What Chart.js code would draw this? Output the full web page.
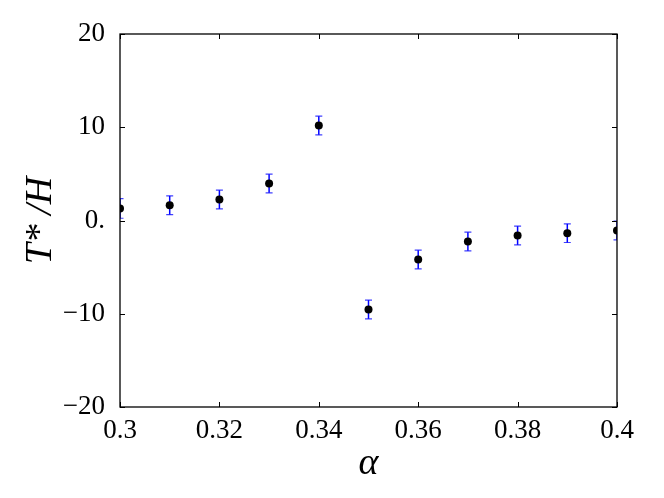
<!DOCTYPE html>
<html>
<head>
<meta charset="utf-8">
<script src="https://cdn.jsdelivr.net/npm/chart.js@4.4.1/dist/chart.umd.min.js"></script>
<style>
    html, body { margin: 0; padding: 0; background: #fff; }
</style>
</head>
<body>
<canvas id="chart" width="664" height="498"></canvas>
<script>
const alphaValues = [0.30, 0.31, 0.32, 0.33, 0.34, 0.35, 0.36, 0.37, 0.38, 0.39, 0.40];
const tValues = [1.29, 1.64, 2.25, 3.97, 10.19, -9.54, -4.18, -2.25, -1.61, -1.36, -1.07];
const tErrors = [1.05, 1.0, 1.0, 1.0, 1.0, 1.0, 1.0, 1.0, 1.0, 1.0, 1.0];

const xTicks = [0.30, 0.32, 0.34, 0.36, 0.38, 0.40];
const xTickLabels = ['0.3', '0.32', '0.34', '0.36', '0.38', '0.4'];
const yTicks = [-20, -10, 0, 10, 20];
const yTickLabels = ['\u221220', '\u221210', '0.', '10', '20'];

let points = [];
for (let i = 0; i < alphaValues.length; i++) {
    points.push({ 'x': alphaValues[i], 'y': tValues[i] });
}

// error bars drawn under the points, clipped to the plot area
const errorBars = {
    id: 'error_bars',
    beforeDatasetsDraw: (chart) => {
        const ctx = chart.ctx;
        const xs = chart.scales.x;
        const ys = chart.scales.y;
        const a = chart.chartArea;
        ctx.save();
        ctx.beginPath();
        ctx.rect(a.left, a.top, a.right - a.left, a.bottom - a.top);
        ctx.clip();
        for (let i = 0; i < alphaValues.length; i++) {
            const px = xs.getPixelForValue(alphaValues[i]);
            const top = ys.getPixelForValue(tValues[i] + tErrors[i]);
            const bottom = ys.getPixelForValue(tValues[i] - tErrors[i]);
            ctx.strokeStyle = 'rgb(0, 0, 255)';
            ctx.lineWidth = 1.5;
            ctx.beginPath();
            ctx.moveTo(px, top);
            ctx.lineTo(px, bottom);
            ctx.stroke();
            ctx.strokeStyle = 'rgba(0, 0, 255, 0.75)';
            ctx.lineWidth = 1.2;
            ctx.beginPath();
            ctx.moveTo(px - 3.5, top);
            ctx.lineTo(px + 3.5, top);
            ctx.moveTo(px - 3.5, bottom);
            ctx.lineTo(px + 3.5, bottom);
            ctx.stroke();
        }
        ctx.restore();
    }
};

// box frame with inward ticks on all four sides
const frame = {
    id: 'frame',
    afterDraw: (chart) => {
        const ctx = chart.ctx;
        const a = chart.chartArea;
        const tl = 5;
        ctx.save();
        ctx.strokeStyle = 'black';
        ctx.lineWidth = 1;
        ctx.beginPath();
        chart.scales.x.ticks.forEach(t => {
            const px = Math.round(chart.scales.x.getPixelForValue(t.value)) + 0.5;
            ctx.moveTo(px, a.bottom);
            ctx.lineTo(px, a.bottom - tl);
            ctx.moveTo(px, a.top);
            ctx.lineTo(px, a.top + tl);
        });
        chart.scales.y.ticks.forEach(t => {
            const py = Math.round(chart.scales.y.getPixelForValue(t.value)) + 0.5;
            ctx.moveTo(a.left, py);
            ctx.lineTo(a.left + tl, py);
            ctx.moveTo(a.right, py);
            ctx.lineTo(a.right - tl, py);
        });
        ctx.stroke();
        ctx.lineWidth = 1.3;
        ctx.strokeRect(a.left, a.top, a.right - a.left, a.bottom - a.top);
        ctx.restore();
    }
};

const tickFont = { family: "'Liberation Serif', serif", size: 27 };
const titleFont = { family: "'Liberation Serif', serif", size: 38, style: 'italic', lineHeight: 1 };

const config = {
    type: 'scatter',
    data: {
        datasets: [
            {
                label: 'T*/H',
                data: points,
                backgroundColor: 'black',
                borderColor: 'black',
                pointRadius: 4,
                borderWidth: 0,
                clip: 0
            }
        ]
    },
    options: {
        responsive: false,
        animation: false,
        layout: {
            padding: { left: 0, right: 47, top: 34, bottom: 0 }
        },
        plugins: {
            legend: { display: false },
            tooltip: { enabled: false }
        },
        scales: {
            x: {
                type: 'linear',
                min: 0.3,
                max: 0.4,
                afterBuildTicks: (scale) => {
                    scale.ticks = xTicks.map(v => ({ value: v }));
                },
                afterFit: (scale) => { scale.height = 91; },
                ticks: {
                    color: 'black',
                    font: tickFont,
                    padding: 0,
                    maxRotation: 0,
                    callback: (value, index) => xTickLabels[index]
                },
                grid: { display: false },
                border: { display: false },
                title: {
                    display: true,
                    text: '\u03b1',
                    color: 'black',
                    font: titleFont,
                    padding: { top: 0, bottom: 15 }
                }
            },
            y: {
                type: 'linear',
                min: -20,
                max: 20,
                afterBuildTicks: (scale) => {
                    scale.ticks = yTicks.map(v => ({ value: v }));
                },
                afterFit: (scale) => { scale.width = 120; },
                ticks: {
                    color: 'black',
                    font: tickFont,
                    padding: 7,
                    callback: (value, index) => yTickLabels[index]
                },
                grid: { display: false },
                border: { display: false },
                title: {
                    display: true,
                    text: 'T* /H',
                    color: 'black',
                    font: titleFont,
                    padding: { top: 22, bottom: 0 }
                }
            }
        }
    },
    plugins: [errorBars, frame]
};

let chart = new Chart(document.getElementById('chart'), config);
</script>
</body>
</html>
